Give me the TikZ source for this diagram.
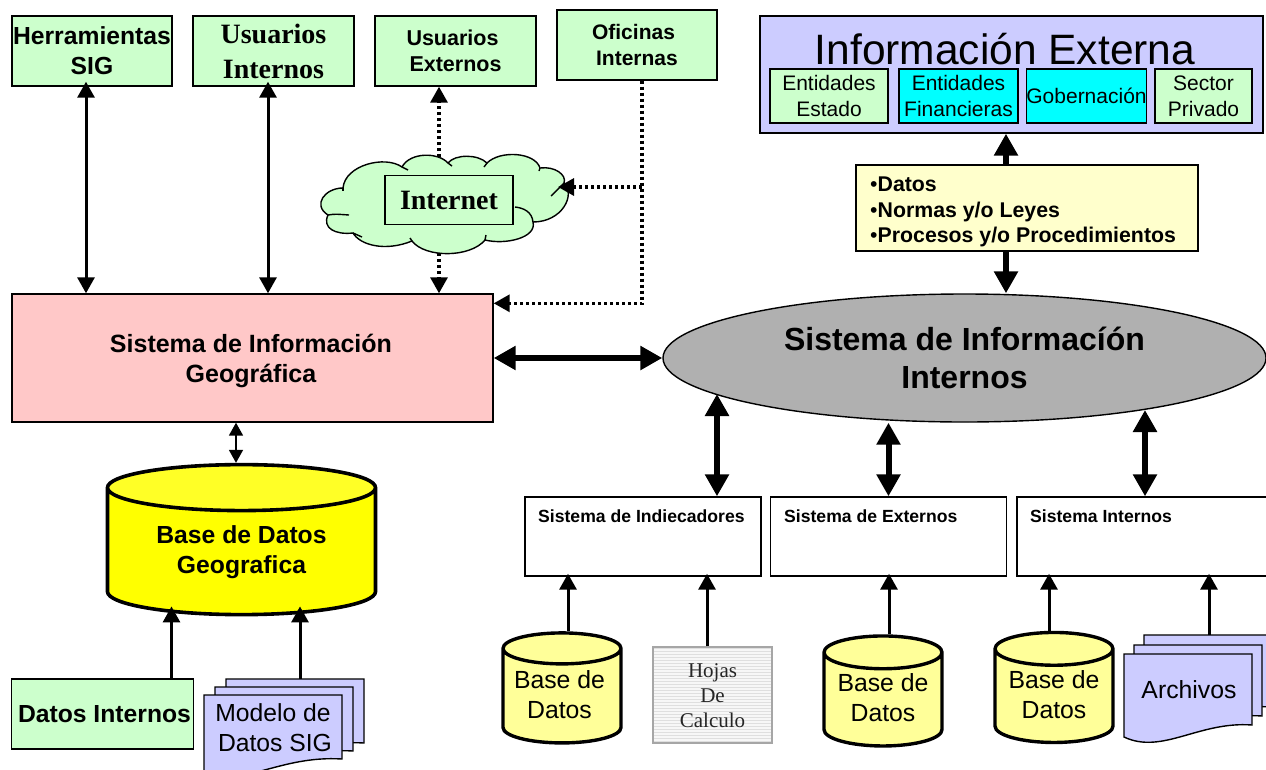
\documentclass[tikz,border=0pt]{standalone}
\usepackage{fontspec}
\setmainfont{Liberation Sans}
\newfontfamily\romana{Liberation Serif}
\usepackage{tikz}
\usetikzlibrary{positioning,shapes.geometric,arrows.meta,patterns}
\definecolor{verdeclaro}{HTML}{CCFFCC}
\definecolor{lila}{HTML}{CCCCFF}
\definecolor{rosa}{HTML}{FFC8C8}
\definecolor{crema}{HTML}{FFFFCC}
\definecolor{amarillo}{HTML}{FFFF99}
\definecolor{amarfuerte}{HTML}{FFFF00}
\definecolor{celestef}{HTML}{00FFFF}
\definecolor{gris}{HTML}{B0B0B0}
\newcommand{\fsize}[2]{\fontsize{#1pt}{#2pt}\selectfont}
\newcommand{\hojadoc}[4]{\draw[docline] (#1,#2) -- (#3,#2) -- (#3,#4) .. controls (#1+75,#4-4) and (#1+38,#4+30) .. (#1,#4+12) -- cycle;}
\tikzset{
  caja/.style={draw=black,line width=1.4pt,inner sep=0pt,align=center},
  verde/.style={caja,fill=verdeclaro,font=\fsize{21}{26}\bfseries},
  celeste/.style={caja,fill=celestef,font=\fsize{21}{26}},
  sistema/.style={caja,fill=white,minimum height=79pt},
  titsis/.style={anchor=north west,inner sep=0pt,font=\fsize{17.6}{20}\bfseries},
  docline/.style={draw=black,line width=1.4pt,fill=lila},
  cilindro/.style={cylinder,draw=black,shape border rotate=90,inner sep=0pt,align=center,cylinder uses custom fill},
  bdchico/.style={cilindro,line width=3.4pt,cylinder body fill=amarillo,cylinder end fill=amarillo,minimum width=118pt,minimum height=110pt,aspect=0.36,text depth=4pt,font=\fsize{24.8}{30}},
  fino/.style={line width=1.8pt,<->,>={Triangle[length=13pt,width=14pt]}},
  medio/.style={line width=3pt,>={Triangle[length=16pt,width=17pt]}},
  grueso/.style={line width=6pt,>={Triangle[length=22pt,width=23pt]}},
  puntos/.style={line width=3.2pt,dash pattern=on 3pt off 3pt,>={Triangle[length=16pt,width=17pt]}}
}
\begin{document}
\begin{tikzpicture}[x=1pt,y=-1pt]
\clip (0,0) rectangle (1266,769);
% fila superior
\node[verde,font=\fsize{24.7}{30}\bfseries,minimum width=160pt,minimum height=70pt] (herr) at (92,51) {Herramientas\\SIG};
\node[verde,font=\fsize{28}{35}\romana\bfseries,minimum width=161pt,minimum height=70pt] (uint) at (273.5,51) {Usuarios\\Internos};
\node[verde,font=\fsize{21.5}{26}\bfseries,minimum width=161pt,minimum height=70pt] (uext) at (455.5,51) {Usuarios\hspace*{6pt}\\Externos};
\node[verde,minimum width=160pt,minimum height=70pt] (ofic) at (637,45) {Oficinas\hspace*{7pt}\\Internas};
% nube
\draw[fill=verdeclaro,line width=1.4pt] (343,188) .. controls (345,165) and (385,155) .. (402,167)
  .. controls (410,152) and (438,152) .. (448,163)
  .. controls (455,154) and (478,154) .. (487,163)
  .. controls (500,150) and (535,152) .. (540,168)
  .. controls (555,166) and (567,175) .. (564,183)
  .. controls (576,195) and (562,222) .. (533,222)
  .. controls (537,238) and (505,245) .. (485,240)
  .. controls (470,258) and (425,258) .. (412,241)
  .. controls (385,252) and (360,245) .. (353,233)
  .. controls (335,235) and (322,228) .. (328,215)
  .. controls (312,205) and (325,188) .. cycle;
\draw[line width=1.4pt] (402,167) -- (408,170);
\draw[line width=1.4pt] (448,163) -- (452,166);
\draw[line width=1.4pt] (487,163) -- (484,167);
\draw[line width=1.4pt] (540,168) -- (539,171);
\draw[line width=1.4pt] (564,183) .. controls (558,190) .. (551,196);
\draw[line width=1.4pt] (533,222) .. controls (532,212) and (524,208) .. (515,207);
\draw[line width=1.4pt] (485,240) -- (486,235);
\draw[line width=1.4pt] (412,241) -- (410,238);
\draw[line width=1.4pt] (353,233) -- (362,237);
\draw[line width=1.4pt] (328,215) .. controls (335,214) .. (349,215);
\draw[line width=1.4pt] (343,188) -- (343,191);
\node[verde,font=\fsize{28}{34}\romana\bfseries,minimum width=128pt,minimum height=49pt] (inet) at (449,200) {Internet};
\coordinate (nubearr) at (439,157);
\coordinate (nubeaba) at (439,253);
\coordinate (nubeder) at (558,187);
\coordinate (cruce) at (642,187);
% informacion externa
\node[caja,fill=lila,minimum width=503pt,minimum height=117pt] (iext) at (1011.5,74.5) {};
\node[inner sep=0pt,font=\fsize{42.5}{46}] (iexttit) at (1005,49) {Información Externa};
\node[verde,font=\fsize{21}{26},minimum width=118pt,minimum height=54pt] (ent1) at (829,96) {Entidades\\Estado};
\node[celeste,minimum width=119pt,minimum height=54pt] (ent2) at (958.5,96) {Entidades\\Financieras};
\node[celeste,minimum width=119pt,minimum height=54pt] (ent3) at (1086.5,96) {Gobernación};
\node[verde,font=\fsize{21}{26},minimum width=97pt,minimum height=54pt] (ent4) at (1203.5,96) {Sector\\Privado};
\node[caja,fill=crema,minimum width=342pt,minimum height=86pt] (dato) at (1027,208) {};
\node[anchor=west,inner sep=0pt,align=left,font=\fsize{21.3}{25.5}\bfseries] (datot) at (870,212) {{\mdseries•}Datos\\{\mdseries•}Normas y/o Leyes\\{\mdseries•}Procesos y/o Procedimientos};
% sistemas centrales
\node[caja,fill=rosa,minimum width=481pt,minimum height=128pt] (sig) at (252.5,358) {};
\node[inner sep=0pt,align=center,font=\fsize{25}{30}\bfseries] (sigt) at (251,361) {Sistema de Información\\Geográfica};
\node[ellipse,draw=black,line width=1.4pt,fill=gris,inner sep=0pt,align=center,minimum width=603pt,minimum height=128pt,font=\fsize{32}{38}\bfseries] (elli) at (964.5,358) {Sistema de Informacíón\\Internos};
\node[cilindro,line width=3.6pt,cylinder body fill=amarfuerte,cylinder end fill=amarfuerte!85!white,minimum width=268pt,minimum height=150pt,aspect=0.27,font=\fsize{24.7}{30}\bfseries] (bdgeo) at (241.5,552) {Base de Datos\\Geografica};
% subsistemas
\node[sistema,minimum width=236pt] (sind) at (643,536.5) {};
\node[titsis] (sindt) at (538,510) {Sistema de Indiecadores};
\node[sistema,minimum width=236pt] (sext) at (888.5,536.5) {};
\node[titsis] (sextt) at (784,510) {Sistema de Externos};
\node[sistema,minimum width=258pt] (sinte) at (1146,536.5) {};
\node[titsis] (sintet) at (1030,510) {Sistema Internos};
\coordinate (elind) at (717,394);
\coordinate (elint) at (1145,410);
% fila inferior
\node[verde,font=\fsize{24.7}{30}\bfseries,minimum width=182pt,minimum height=70pt] (dint) at (102.5,714) {\hspace*{4pt}Datos Internos};
\hojadoc{226}{679}{364}{743}
\hojadoc{215}{687}{353}{751}
\hojadoc{204}{695}{342}{759}
\node[inner sep=0pt,align=center,font=\fsize{24.7}{30}] (modt) at (273,728) {Modelo de\\ \hspace*{4pt}Datos SIG};
\coordinate (modarr) at (300,679);
\node[bdchico] (bd1) at (562,696.5) {\hspace*{-5pt}Base de\\\hspace*{-5pt}Datos};
\node[draw=gray!70,line width=1.2pt,preaction={fill=gray!6},pattern=horizontal lines,pattern color=gray!25,inner sep=0pt,minimum width=119pt,minimum height=96pt] (hcal) at (712.5,695) {};
\node[inner sep=0pt,align=center,text=black!85,font=\fsize{21}{25}\romana] (hcalt) at (712.5,696) {Hojas\\De\\Calculo};
\node[bdchico] (bd2) at (883,700) {Base de\\Datos};
\node[bdchico] (bd3) at (1054,696.5) {Base de\\Datos};
\hojadoc{1144}{635}{1272}{707}
\hojadoc{1134}{645}{1262}{716}
\hojadoc{1124}{654}{1252}{725}
\node[inner sep=0pt,font=\fsize{24.8}{30}] (arct) at (1189,690) {Archivos};
\coordinate (arcarr) at (1209,635);
% conectores
\draw[medio,<->,shorten <=-5pt] ([xshift=-6pt]herr.south) -- ([xshift=-6pt]herr.south |- sig.north);
\draw[medio,<->,shorten <=-5pt] ([xshift=-5.5pt]uint.south) -- ([xshift=-5.5pt]uint.south |- sig.north);
\draw[puntos,->] (nubearr) -- (uext.south -| nubearr);
\draw[puntos,->] (nubeaba) -- (sig.north -| nubeaba);
\draw[puntos,->] ([xshift=5pt]ofic.south) |- ([yshift=-10pt]sig.north east);
\draw[puntos,->] (cruce) -- (nubeder);
\draw[grueso,<->] (sig.east) -- (elli.west);
\draw[fino] ([xshift=-5.5pt]sig.south -| bdgeo.north) -- ([xshift=-5.5pt]bdgeo.north);
\draw[grueso,->] ([xshift=-21pt]dato.north) -- ([xshift=-21pt]dato.north |- iext.south);
\draw[grueso,->] ([xshift=-21pt]dato.south) -- ([xshift=-21pt]dato.south |- elli.north);
\draw[grueso,<->] (elind) -- (elind |- sind.north);
\draw[grueso,<->] (elli.south -| sext.north) -- (sext.north);
\draw[grueso,<->] (elint) -- (elint |- sinte.north);
\draw[medio,->,shorten >=-10pt] ([xshift=69pt]dint.north) -- ([xshift=69pt]dint.north |- bdgeo.south);
\draw[medio,->,shorten >=-10pt] (modarr) -- (modarr |- bdgeo.south);
\draw[medio,->,shorten >=-3pt] ([xshift=6pt]bd1.north) -- ([xshift=6pt]bd1.north |- sind.south);
\draw[medio,->,shorten >=-3pt] ([xshift=-5.5pt]hcal.north) -- ([xshift=-5.5pt]hcal.north |- sind.south);
\draw[medio,->,shorten >=-3pt] ([xshift=6pt]bd2.north) -- ([xshift=6pt]bd2.north |- sext.south);
\draw[medio,->,shorten >=-3pt] ([xshift=-5pt]bd3.north) -- ([xshift=-5pt]bd3.north |- sinte.south);
\draw[medio,->,shorten >=-3pt] (arcarr) -- (arcarr |- sinte.south);
\end{tikzpicture}
\end{document}
